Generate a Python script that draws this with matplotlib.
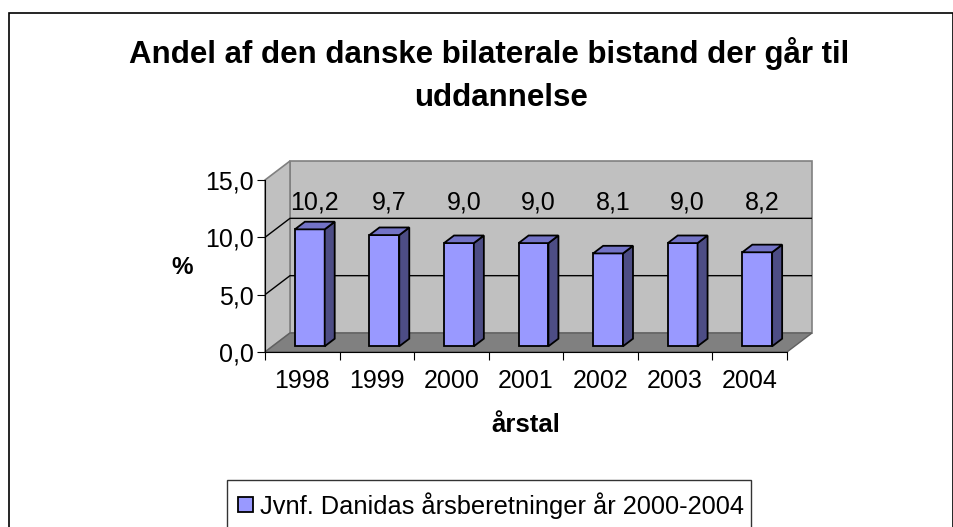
import matplotlib.pyplot as plt
from matplotlib.patches import Polygon, Rectangle

years = ['1998', '1999', '2000', '2001', '2002', '2003', '2004']
values = [10.2, 9.7, 9.0, 9.0, 8.1, 9.0, 8.2]
yticks = [0, 5, 10, 15]
title1 = 'Andel af den danske bilaterale bistand der går til'
title2 = 'uddannelse'
legend_label = 'Jvnf. Danidas årsberetninger år 2000-2004'

plt.rcParams['font.family'] = ['Liberation Sans', 'DejaVu Sans']

W, H = 954, 527
fig = plt.figure(figsize=(W / 100, H / 100), dpi=100)

n = len(years)
ymax = yticks[-1]
# front plane in pixels, plus 3d depth offset
fx0, fx1, fy0, fy1 = 265, 787, 352, 180
ddx, ddy = 25, 19
cat_px = (fx1 - fx0) / n
val_px = (fy0 - fy1) / ymax
dx = ddx / cat_px
dy = ddy / val_px

ax = fig.add_axes([fx0 / W, 1 - fy0 / H, (fx1 + ddx - fx0) / W, (fy0 - fy1 + ddy) / H])
ax.set_xlim(0, n + dx)
ax.set_ylim(0, ymax + dy)
ax.set_facecolor('none')

wall = '#C0C0C0'
floor = '#808080'
ax.add_patch(Polygon([(dx, dy), (n + dx, dy), (n + dx, ymax + dy), (dx, ymax + dy)],
                     closed=True, fc=wall, ec='#808080', lw=1.2, zorder=0, clip_on=False))
ax.add_patch(Polygon([(0, 0), (dx, dy), (dx, ymax + dy), (0, ymax)],
                     closed=True, fc=wall, ec='#808080', lw=1.2, zorder=0, clip_on=False))
ax.add_patch(Polygon([(0, 0), (n, 0), (n + dx, dy), (dx, dy)],
                     closed=True, fc=floor, ec='#606060', lw=1, zorder=1, clip_on=False))
for v in yticks[1:-1]:
    ax.plot([0, dx, n + dx], [v, v + dy, v + dy], color='black', lw=1, zorder=1)

# bars sit in the middle of the depth
bw = 0.4
b = 0.3 * dy
for i, v in enumerate(values):
    xf = i + 0.3 + 0.3 * dx
    ax.bar(xf, v, width=bw, bottom=b, align='edge', color='#9999FF',
           edgecolor='black', lw=1.3, zorder=3)
    ax.add_patch(Polygon([(xf + bw, b), (xf + bw + bw * dx, b + bw * dy),
                          (xf + bw + bw * dx, b + v + bw * dy), (xf + bw, b + v)],
                         closed=True, fc='#4D4D85', ec='black', lw=1.3, zorder=3))
    ax.add_patch(Polygon([(xf, b + v), (xf + bw, b + v), (xf + bw + bw * dx, b + v + bw * dy),
                          (xf + bw * dx, b + v + bw * dy)],
                         closed=True, fc='#7373C6', ec='black', lw=1.3, zorder=3))
    ax.text(i + 0.5 + 0.5 * dx, 13.0, f'{v:.1f}'.replace('.', ','),
            ha='center', va='center', fontsize=18, zorder=4)

for s in ['top', 'right']:
    ax.spines[s].set_visible(False)
ax.spines['left'].set_bounds(0, ymax)
ax.spines['bottom'].set_bounds(0, n)
ax.spines['left'].set_zorder(5)
ax.spines['bottom'].set_zorder(5)

ax.set_yticks(yticks)
ax.set_yticklabels([f'{t:.1f}'.replace('.', ',') for t in yticks])
ax.tick_params(axis='y', direction='out', length=6, labelsize=18, pad=2)
ax.set_xticks(range(n + 1))
ax.set_xticklabels([])
ax.set_xticks([i + 0.5 for i in range(n)], minor=True)
ax.set_xticklabels(years, minor=True)
ax.tick_params(axis='x', which='major', direction='out', length=6)
ax.tick_params(axis='x', which='minor', length=0, labelsize=18, pad=12)

fig.text(489 / W, 1 - 63 / H, title1, ha='center', va='baseline', fontsize=22.5, fontweight='bold')
fig.text(501 / W, 1 - 106 / H, title2, ha='center', va='baseline', fontsize=22.5, fontweight='bold')
fig.text(182 / W, 1 - 268 / H, '%', ha='center', va='center', fontsize=17.5, fontweight='bold')
fig.text(526 / W, 1 - 425 / H, 'årstal', ha='center', va='center', fontsize=18.5, fontweight='bold')

fig.add_artist(Rectangle((9 / W, -0.1), (953 - 9) / W, 1 - 13 / H + 0.1,
                         transform=fig.transFigure, fill=False, ec='black', lw=1.2))

handle = Rectangle((0, 0), 1, 1, fc='#9999FF', ec='black', lw=1.3)
leg = fig.legend([handle], [legend_label], loc='upper left',
                 bbox_to_anchor=(227 / W, 1 - 481 / H, (751 - 227) / W, 0.001),
                 mode='expand', fontsize=18.3, frameon=True, fancybox=False,
                 borderaxespad=0, handlelength=0.56, handleheight=0.56,
                 handletextpad=0.3, borderpad=0.45)
leg.get_frame().set_edgecolor('black')
leg.get_frame().set_linewidth(1)

fig.savefig('out.png', dpi=100)
